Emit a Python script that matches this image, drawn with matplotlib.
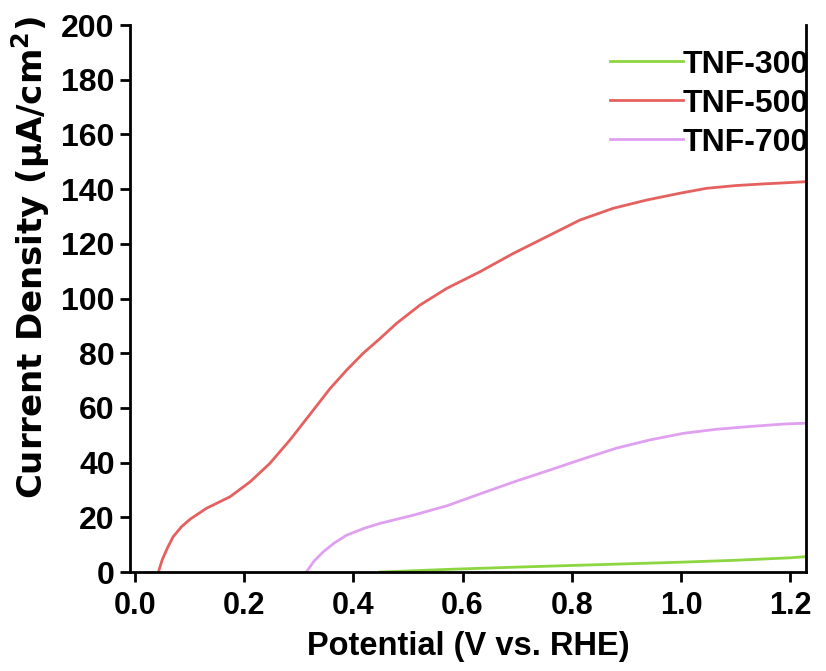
import matplotlib
matplotlib.use("Agg")
import matplotlib.pyplot as plt

# TNF-500 (red)
x500 = [0.043, 0.050, 0.060, 0.070, 0.085, 0.101, 0.131, 0.174, 0.211, 0.247, 0.284, 0.320, 0.357,
        0.388, 0.418, 0.449, 0.479, 0.522, 0.571, 0.632, 0.693, 0.754, 0.815, 0.876, 0.937,
        0.998, 1.047, 1.100, 1.150, 1.190, 1.227]
y500 = [0.0, 4.5, 9.0, 12.9, 16.5, 19.3, 23.3, 27.5, 33.0, 39.7, 48.3, 57.5, 67.0,
        73.9, 80.0, 85.4, 90.9, 97.6, 103.7, 109.8, 116.5, 122.6, 128.7, 133.0, 136.0,
        138.5, 140.3, 141.3, 141.9, 142.3, 142.7]

# TNF-700 (violet)
x700 = [0.314, 0.328, 0.345, 0.365, 0.388, 0.420, 0.449, 0.510, 0.571, 0.638, 0.699, 0.760,
        0.821, 0.882, 0.943, 1.004, 1.065, 1.126, 1.187, 1.227]
y700 = [0.0, 4.0, 7.4, 10.6, 13.5, 16.0, 17.8, 20.8, 24.2, 29.0, 33.3, 37.3,
        41.4, 45.3, 48.3, 50.7, 52.2, 53.2, 54.1, 54.4]

# TNF-300 (green)
x300 = [0.449, 0.50, 0.577, 0.70, 0.80, 0.90, 1.00, 1.10, 1.20, 1.227]
y300 = [0.0, 0.4, 1.0, 1.8, 2.4, 3.0, 3.6, 4.3, 5.2, 5.6]

labels = ["TNF-300", "TNF-500", "TNF-700"]
colors = ["#8cd640", "#e5615f", "#e0a0f0"]

xticks = [0.0, 0.2, 0.4, 0.6, 0.8, 1.0, 1.2]
yticks = [0, 20, 40, 60, 80, 100, 120, 140, 160, 180, 200]

bold = ["Liberation Sans", "DejaVu Sans"]
narrow = ["Liberation Sans Narrow", "Liberation Sans", "DejaVu Sans"]
wide = ["DejaVu Sans"]

fig = plt.figure(figsize=(8.26, 6.71), dpi=100)
ax = fig.add_axes([0.1574, 0.1475, 0.8184, 0.8152])

ax.plot(x300, y300, color=colors[0], lw=2.0, label=labels[0])
ax.plot(x500, y500, color=colors[1], lw=2.0, label=labels[1])
ax.plot(x700, y700, color=colors[2], lw=2.0, label=labels[2])

ax.set_xlim(-0.009, 1.229)
ax.set_ylim(0, 200)
ax.set_xticks(xticks)
ax.set_yticks(yticks)
ax.set_xticklabels([f"{v:.1f}" for v in xticks], family=bold, fontweight="bold", fontsize=22)
ax.set_yticklabels([str(v) for v in yticks], family=bold, fontweight="bold", fontsize=23)

ax.spines["top"].set_visible(False)
for s in ["left", "bottom", "right"]:
    ax.spines[s].set_linewidth(2)
ax.tick_params(axis="both", direction="out", length=7, width=2, pad=4)
ax.tick_params(axis="x", pad=7)

ax.set_xlabel("Potential (V vs. RHE)", family=narrow, fontweight="bold", fontsize=23.5, labelpad=7)
ax.set_ylabel("Current Density (μA/cm$^\\mathregular{2}$)", family=wide, fontweight="bold",
              fontsize=24.5)
ax.yaxis.set_label_coords(-0.115, 0.575)

leg = ax.legend(loc="upper right", frameon=False, prop={"family": bold, "weight": "bold", "size": 23},
                handlelength=2.3, handletextpad=0.0, labelspacing=0.28,
                borderaxespad=0.0, borderpad=0.0, bbox_to_anchor=(1.005, 0.955))

fig.savefig("out.png", dpi=100)
